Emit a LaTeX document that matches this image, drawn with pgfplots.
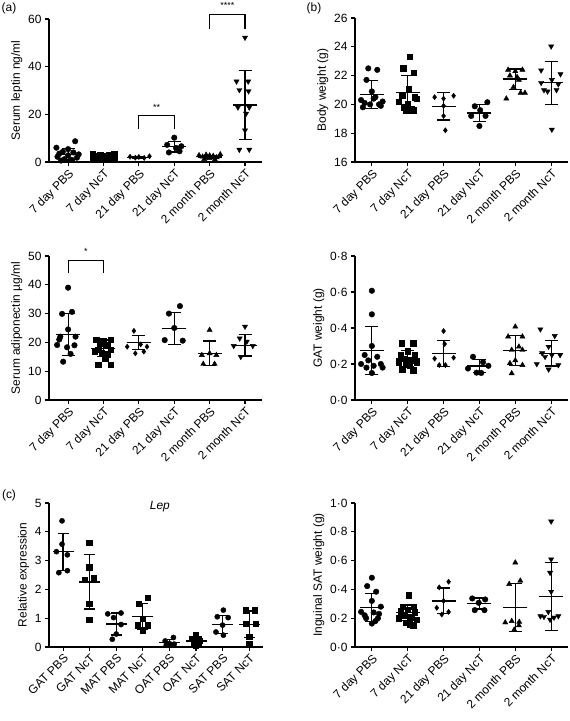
\documentclass[border=0pt]{standalone}
\usepackage{fontspec}
\setmainfont{Liberation Sans}
\usepackage{pgfplots}
\pgfplotsset{compat=1.18}
\pgfplotsset{
  gp/.style={
    scale only axis, anchor=south west,
    axis lines=left, axis line style={-, line width=1.1pt},
    tick align=outside, major tick length=4bp,
    tick style={line width=1.1pt, black},
    clip=false, enlargelimits=false,
    tick label style={font=\fontsize{12}{13}\selectfont},
    label style={font=\fontsize{12}{13}\selectfont},
    /pgf/number format/assume math mode=true,
    xticklabel style={rotate=45, anchor=north east, inner sep=1.5bp},
    ylabel style={yshift=-1bp},
  },
  six/.style={xmin=-0.54, xmax=5.48, xtick={0,...,5},
    xticklabels={7 day PBS,7 day NcT,21 day PBS,21 day NcT,2 month PBS,2 month NcT}},
  sixb/.style={xmin=-0.47, xmax=5.47, xtick={0,...,5},
    xticklabels={7 day PBS,7 day NcT,21 day PBS,21 day NcT,2 month PBS,2 month NcT}},
  pts/.style={only marks, black, mark=#1, mark options={draw=black, fill=black, line width=0.4pt}},
  msd/.style 2 args={black, only marks, mark=-, mark size=#1, mark options={line width=1.2pt},
    error bars/.cd, y dir=both, y explicit, error bar style={line width=1.2pt},
    error mark options={rotate=90, mark size=#2, line width=1.2pt}},
  brk/.style={black, line width=1.1pt, mark=none},
}
\begin{document}
\begin{tikzpicture}
\useasboundingbox (0,0) rectangle (570bp,721bp);
\node[font=\fontsize{12}{13}\selectfont] at (9bp,713bp) {(a)};
\node[font=\fontsize{12}{13}\selectfont] at (314bp,713bp) {(b)};
\node[font=\fontsize{12}{13}\selectfont] at (9bp,226bp) {(c)};

% ---------- (a) leptin
\begin{axis}[gp, six, at={(49bp,559bp)}, width=213bp, height=143bp,
  ymin=0, ymax=60, ytick={0,20,40,60}, ylabel={Serum leptin ng/ml}]
\addplot[pts={*}, mark size=2.8bp] coordinates {(-0.33,6.0) (0.2,8.7) (0,5.4) (-0.15,4.3) (0.15,4.0) (-0.25,3.5) (0.3,3.2) (0,2.8) (-0.3,2.2) (0.25,1.8) (-0.1,1.2) (0.1,0.9) (-0.2,0.6)};
\addplot[pts={square*}, mark size=2.8bp] coordinates {(0.7,3.2) (1.3,3.3) (0.9,3.0) (1.15,2.9) (0.75,2.5) (1.05,2.4) (1.25,2.0) (0.8,1.8) (1.0,1.5) (1.3,1.3) (0.7,1.1) (1.1,1.0)};
\addplot[pts={diamond*}, mark size=2.6bp] coordinates {(1.75,2.2) (1.9,1.8) (2.0,2.1) (2.15,1.7) (2.3,2.4)};
\addplot[pts={*}, mark size=2.8bp] coordinates {(3.0,10.2) (2.8,7.2) (3.2,6.6) (3.05,5.9) (2.85,4.0) (3.15,4.5)};
\addplot[pts={triangle*}, mark size=3bp] coordinates {(3.7,2.8) (3.8,2.2) (3.9,3.0) (4.0,1.6) (4.1,2.5) (4.2,1.9) (4.3,3.2) (3.85,1.2) (4.15,1.0) (4.0,2.7)};
\addplot[pts={triangle*}, mark size=3bp, mark options={rotate=180}] coordinates {(5.0,52.2) (4.76,33.8) (5.09,33.8) (4.84,30.2) (5.1,29.7) (4.8,22.9) (5.12,22.9) (5.03,20.3) (5.0,13.3) (4.84,5.2) (5.12,5.2)};
\addplot[msd={12bp}{6.5bp}] table[x=x, y=m, y error=s] {
x m s
0 3.3 2.5
1 2.2 0.8
2 2.0 0.3
3 6.4 2.2
4 2.1 0.7
5 23.9 14.5
};
\addplot[brk] coordinates {(2,14) (2,19.4) (3,19.4) (3,14)};
\addplot[brk] coordinates {(4,55.7) (4,61.7) (5,61.7) (5,55.7)};
\node[font=\fontsize{9}{10}\selectfont] at (axis cs:2.5,23) {**};
\node[font=\fontsize{9}{10}\selectfont] at (axis cs:4.5,65.5) {****};
\end{axis}

% ---------- (b) body weight
\begin{axis}[gp, sixb, at={(355bp,559bp)}, width=213bp, height=144bp,
  ymin=16, ymax=26, ytick={16,18,...,26}, ylabel={Body weight (g)}]
\addplot[pts={*}, mark size=2.8bp] coordinates {(-0.1,22.5) (0.15,22.4) (-0.15,21.7) (0.0,20.9) (0.1,20.5) (-0.3,20.3) (0.3,20.2) (-0.2,20.1) (0.2,20.0) (-0.05,20.0) (0.25,19.9) (-0.25,19.8) (0.05,20.4)};
\addplot[pts={square*}, mark size=2.8bp] coordinates {(1.05,23.3) (0.88,22.5) (1.17,22.2) (1.03,21.1) (0.85,20.6) (1.2,20.5) (1.25,20.4) (0.75,20.2) (1.0,20.0) (0.9,19.8) (1.1,19.7) (0.95,19.6) (1.15,19.6)};
\addplot[pts={diamond*}, mark size=2.6bp] coordinates {(1.75,20.5) (2.0,20.4) (2.28,20.6) (2.0,19.9) (2.0,19.2) (2.05,18.2)};
\addplot[pts={*}, mark size=2.8bp] coordinates {(3.22,20.15) (2.87,19.87) (3.02,19.6) (2.77,19.2) (3.17,19.2) (3.0,18.5)};
\addplot[pts={triangle*}, mark size=3bp] coordinates {(3.8,22.4) (4.2,22.4) (4.0,22.3) (4.1,21.7) (3.95,21.2) (4.15,20.8) (4.27,20.8) (3.75,20.4) (3.85,22.0) (4.05,21.9)};
\addplot[pts={triangle*}, mark size=3bp, mark options={rotate=180}] coordinates {(5.0,24.03) (4.72,22.37) (5.26,22.1) (5.02,21.7) (4.72,21.5) (5.2,21.4) (4.8,21.0) (5.15,21.0) (4.9,20.9) (5.02,18.25)};
\addplot[msd={12bp}{6.5bp}] table[x=x, y=m, y error=s] {
x m s
0 20.68 0.98
1 20.84 1.17
2 19.87 0.95
3 19.40 0.60
4 21.76 0.70
5 21.50 1.50
};
\end{axis}

% ---------- adiponectin
\begin{axis}[gp, six, at={(49bp,321bp)}, width=213bp, height=144bp,
  ymin=0, ymax=50, ytick={0,10,...,50}, ylabel={Serum adiponectin µg/ml}]
\addplot[pts={*}, mark size=2.8bp] coordinates {(0.0,39.0) (-0.17,29.9) (0.11,30.6) (0.0,24.5) (-0.22,22.0) (0.21,22.0) (-0.31,19.1) (-0.03,18.3) (0.18,19.0) (0.07,16.0) (-0.14,13.3) (-0.25,21.0)};
\addplot[pts={square*}, mark size=2.8bp] coordinates {(0.8,21.0) (1.2,21.0) (1.0,20.4) (0.9,19.8) (1.1,19.2) (0.85,17.4) (1.2,17.4) (0.95,16.2) (1.1,16.0) (0.75,17.0) (0.85,12.2) (1.2,12.2) (1.05,14.5)};
\addplot[pts={diamond*}, mark size=2.6bp] coordinates {(1.86,24.0) (1.67,18.5) (2.05,19.3) (2.23,18.5) (1.9,16.2) (2.14,16.8)};
\addplot[pts={*}, mark size=2.8bp] coordinates {(3.16,32.6) (2.85,30.0) (3.0,25.0) (2.73,20.8) (3.24,20.6)};
\addplot[pts={triangle*}, mark size=3bp] coordinates {(4.0,24.3) (3.78,15.6) (4.0,16.2) (4.19,15.6) (3.82,12.5) (4.14,12.5)};
\addplot[pts={triangle*}, mark size=3bp, mark options={rotate=180}] coordinates {(5.0,25.5) (4.85,21.4) (5.22,18.8) (5.05,20.3) (4.68,18.8) (4.88,15.0)};
\addplot[msd={12bp}{6.5bp}] table[x=x, y=m, y error=s] {
x m s
0 22.8 7.3
1 17.9 2.9
2 19.9 2.4
3 24.8 5.5
4 16.2 4.3
5 19.0 3.7
};
\addplot[brk] coordinates {(0,44.0) (0,48.4) (1,48.4) (1,44.0)};
\node[font=\fontsize{9}{10}\selectfont] at (axis cs:0.5,51.5) {*};
\end{axis}

% ---------- GAT weight
\begin{axis}[gp, sixb, at={(355bp,321bp)}, width=213bp, height=144bp,
  ymin=0, ymax=0.8, ytick={0,0.2,0.4,0.6,0.8}, yticklabels={0·0,0·2,0·4,0·6,0·8}, ylabel={GAT weight (g)}]
\addplot[pts={*}, mark size=2.8bp] coordinates {(0,0.607) (0,0.476) (0,0.30) (-0.2,0.25) (0.15,0.24) (-0.1,0.22) (0.25,0.20) (-0.3,0.20) (0.05,0.19) (0.3,0.18) (-0.15,0.18) (0,0.15)};
\addplot[pts={square*}, mark size=2.8bp] coordinates {(0.83,0.315) (1.15,0.315) (1.0,0.27) (0.8,0.25) (1.2,0.25) (0.9,0.23) (1.1,0.22) (0.75,0.21) (1.25,0.21) (0.95,0.20) (1.05,0.19) (0.85,0.17) (1.15,0.165)};
\addplot[pts={diamond*}, mark size=2.6bp] coordinates {(2.0,0.383) (2.03,0.311) (2.28,0.235) (1.75,0.23) (2.05,0.194) (1.88,0.194)};
\addplot[pts={*}, mark size=2.8bp] coordinates {(2.82,0.24) (3.1,0.21) (3.25,0.19) (2.68,0.175) (2.92,0.152) (3.05,0.15)};
\addplot[pts={triangle*}, mark size=3bp] coordinates {(4.0,0.407) (3.8,0.352) (4.2,0.352) (4.1,0.296) (3.9,0.278) (4.2,0.278) (3.85,0.204) (4.2,0.194) (3.9,0.148) (4.0,0.22)};
\addplot[pts={triangle*}, mark size=3bp, mark options={rotate=180}] coordinates {(4.7,0.393) (5.1,0.356) (4.93,0.296) (4.75,0.26) (5.02,0.25) (5.25,0.25) (4.83,0.24) (4.6,0.2) (5.2,0.194) (4.93,0.17)};
\addplot[msd={12bp}{6.5bp}] table[x=x, y=m, y error=s] {
x m s
0 0.275 0.132
1 0.231 0.043
2 0.259 0.073
3 0.189 0.037
4 0.275 0.085
5 0.259 0.070
};
\end{axis}

% ---------- (c) Lep
\begin{axis}[gp, at={(49bp,74bp)}, width=214bp, height=144bp,
  xmin=-0.53, xmax=7.52, xtick={0,...,7},
  xticklabels={GAT PBS,GAT NcT,MAT PBS,MAT NcT,OAT PBS,OAT NcT,SAT PBS,SAT NcT},
  ymin=0, ymax=5, ytick={0,...,5}, ylabel={Relative expression}]
\addplot[pts={*}, mark size=2.6bp] coordinates {(-0.04,4.38) (-0.04,3.57) (-0.25,3.31) (0.16,3.2) (-0.16,2.58) (0.16,2.65)};
\addplot[pts={square*}, mark size=2.6bp] coordinates {(0.98,3.63) (0.98,2.77) (0.81,2.35) (1.15,2.42) (0.98,1.49) (0.98,0.95)};
\addplot[pts={*}, mark size=2.6bp] coordinates {(1.68,1.15) (2.18,1.18) (1.9,1.02) (2.18,0.78) (2.0,0.45) (1.85,0.27)};
\addplot[pts={square*}, mark size=2.6bp] coordinates {(3.18,1.72) (2.84,1.51) (3.0,0.99) (2.8,0.76) (3.18,0.76) (3.0,0.58)};
\addplot[pts={*}, mark size=2.6bp] coordinates {(4.15,0.33) (3.84,0.21) (4.0,0.12) (3.88,0.06) (4.1,0.07) (4.18,0.1)};
\addplot[pts={square*}, mark size=2.6bp] coordinates {(5.0,0.44) (4.84,0.29) (5.15,0.23) (4.92,0.15) (5.08,0.1) (5.0,0.06)};
\addplot[pts={*}, mark size=2.6bp] coordinates {(6.03,1.28) (5.8,1.05) (6.21,1.02) (6.0,0.76) (5.75,0.52) (6.03,0.41)};
\addplot[pts={square*}, mark size=2.6bp] coordinates {(6.86,1.28) (7.21,1.28) (6.89,0.81) (7.25,0.81) (7.0,0.37) (7.0,0.12)};
\addplot[msd={10.5bp}{5.5bp}] table[x=x, y=m, y error=s] {
x m s
0 3.31 0.64
1 2.26 0.94
2 0.80 0.38
3 1.05 0.45
4 0.15 0.10
5 0.21 0.14
6 0.79 0.31
7 0.79 0.46
};
\node[font=\fontsize{12}{13}\selectfont\itshape] at (axis cs:3.64,4.86) {Lep};
\end{axis}

% ---------- SAT weight
\begin{axis}[gp, sixb, at={(355bp,74bp)}, width=213bp, height=144bp,
  ymin=0, ymax=1, ytick={0,0.2,0.4,0.6,0.8,1}, yticklabels={0·0,0·2,0·4,0·6,0·8,1·0}, ylabel={Inguinal SAT weight (g)}]
\addplot[pts={*}, mark size=2.8bp] coordinates {(0,0.481) (-0.13,0.423) (0.12,0.384) (0,0.32) (0.25,0.28) (-0.3,0.244) (0.05,0.24) (-0.16,0.2) (0.17,0.2) (0,0.163) (-0.2,0.22) (0.2,0.23) (0.1,0.18)};
\addplot[pts={square*}, mark size=2.8bp] coordinates {(1.03,0.36) (0.86,0.28) (1.17,0.28) (1.0,0.26) (0.8,0.25) (1.2,0.24) (0.9,0.22) (1.1,0.21) (0.75,0.2) (1.25,0.19) (0.95,0.17) (1.05,0.16) (1.15,0.15)};
\addplot[pts={diamond*}, mark size=2.6bp] coordinates {(2.14,0.453) (1.88,0.414) (2.0,0.32) (1.81,0.272) (2.14,0.244) (1.95,0.226)};
\addplot[pts={*}, mark size=2.8bp] coordinates {(2.8,0.337) (3.16,0.33) (2.98,0.307) (2.87,0.256) (3.14,0.256)};
\addplot[pts={triangle*}, mark size=3bp] coordinates {(4.0,0.586) (3.83,0.437) (4.14,0.46) (3.72,0.17) (3.9,0.18) (4.11,0.174) (3.97,0.12) (4.1,0.15)};
\addplot[pts={triangle*}, mark size=3bp, mark options={rotate=180}] coordinates {(5.0,0.872) (5.0,0.609) (4.97,0.516) (5.0,0.384) (4.92,0.244) (4.7,0.214) (4.8,0.21) (5.2,0.214) (4.97,0.19) (5.08,0.205)};
\addplot[msd={12bp}{6.5bp}] table[x=x, y=m, y error=s] {
x m s
0 0.274 0.098
1 0.237 0.055
2 0.320 0.090
3 0.302 0.038
4 0.275 0.165
5 0.353 0.236
};
\end{axis}
\end{tikzpicture}
\end{document}
